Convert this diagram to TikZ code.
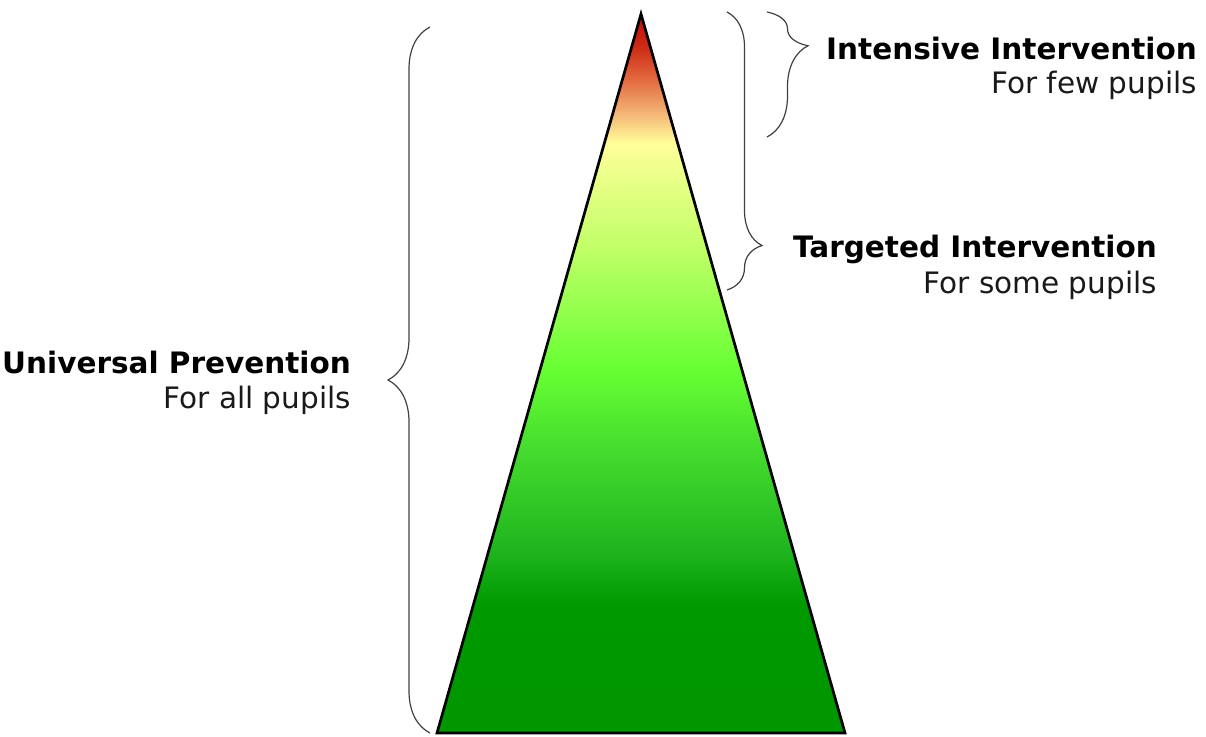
\documentclass[tikz,border=0pt]{standalone}
\usepackage{fontspec}
\setmainfont{DejaVu Sans}
\usetikzlibrary{decorations.pathreplacing, positioning}

\pgfdeclareverticalshading{pyramid}{100bp}{
  rgb(0bp)=(0,.59,0); rgb(25bp)=(0,.59,0);
  rgb(33.9bp)=(0,.6,0); rgb(37.7bp)=(.12,.71,.12);
  rgb(44.7bp)=(.27,.86,.18); rgb(50.2bp)=(.4,1,.2);
  rgb(58.6bp)=(.75,1,.4); rgb(66bp)=(1,1,.6);
  rgb(68bp)=(.96,.72,.47); rgb(70.4bp)=(.89,.42,.25);
  rgb(72.8bp)=(.8,.16,.08); rgb(75bp)=(.76,.06,.03);
  rgb(100bp)=(.76,.06,.03)}

\begin{document}
\begin{tikzpicture}[x=1pt, y=-1pt,
    curly/.style args={#1/#2}{decorate, decoration={brace, amplitude=#1, aspect=#2},
      draw=black!75, line width=1.2pt},
    head/.style={font=\fontsize{29.5}{35}\selectfont\bfseries, text=black,
      inner sep=0pt, anchor=base east},
    sub/.style={font=\fontsize{29.5}{35}\selectfont, text=black!90,
      inner sep=0pt, anchor=base east}]
  \useasboundingbox (0,0) rectangle (1206,736);

  % the pyramid
  \coordinate (apex) at (641,14);
  \coordinate (bl) at (437,733);
  \coordinate (br) at (845,733);
  \shade[shading=pyramid] (apex) -- (bl) -- (br) -- cycle;
  \draw[line width=2.7pt] (apex) -- (bl) -- (br) -- cycle;

  % braces
  \coordinate (uT) at (430,27);
  \coordinate (uB) at (430,733);
  \coordinate (tT) at (727,12);
  \coordinate (tB) at (727,290);
  \coordinate (iT) at (767,12);
  \coordinate (iB) at (767,137);
  \draw[curly=42/0.5] (uB) -- (uT);
  \draw[curly=35/0.84] (tT) -- (tB);
  \draw[curly=41/0.27] (iT) -- (iB);

  % labels
  \node[head] (intensive) at (1197,59) {Intensive Intervention};
  \node[sub] (few) at ([yshift=-34pt]intensive.base east) {For few pupils};
  \node[head] (targeted) at (1157,257) {Targeted Intervention};
  \node[sub] (some) at ([yshift=-36pt]targeted.base east) {For some pupils};
  \node[head] (universal) at (351,373) {Universal Prevention};
  \node[sub] (all) at ([yshift=-35pt]universal.base east) {For all pupils};
\end{tikzpicture}
\end{document}
